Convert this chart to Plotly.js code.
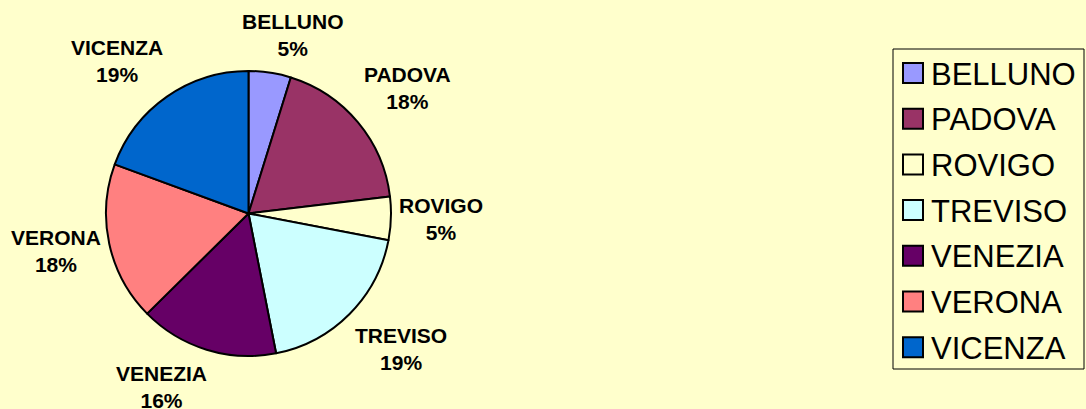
<!DOCTYPE html>
<html>
<head>
<meta charset="utf-8">
<script src="https://cdn.plot.ly/plotly-3.0.1.min.js"></script>
<style>html,body{margin:0;padding:0;background:#FFFFCC;}#chart{width:1086px;height:409px;}</style>
</head>
<body>
<div id="chart"></div>
<script>
// ---- data ----
const provinces = ["BELLUNO", "PADOVA", "ROVIGO", "TREVISO", "VENEZIA", "VERONA", "VICENZA"];
const shares = [4.8, 18.3, 4.9, 18.9, 15.7, 18.0, 19.4];
const sliceColors = ["#9999FF", "#993366", "#FFFFCC", "#CCFFFF", "#660066", "#FF8080", "#0066CC"];

// ---- geometry (layout only) ----
const W = 1086, H = 409;
const cx = 248.5, cy = 213.5, R = 142.5;
const px = x => x / W;
const py = y => 1 - y / H;
const clamp = (v, lo, hi) => Math.max(lo, Math.min(hi, v));

const FONT = "Liberation Sans, Arial, Helvetica, sans-serif";
const labelSize = 21;
const total = shares.reduce((a, b) => a + b, 0);

const ctx = document.createElement("canvas").getContext("2d");
ctx.font = "bold 20px " + FONT;

// label boxes sit just outside the pie: the anchor point on the mid-angle ray
// touches the label box (edge or corner), as in spreadsheet "best fit" labels
const annotations = [];
const r0 = R + 10.5, halfH = 27.5;
let cum = 0;
shares.forEach((v, i) => {
  const mid = (cum + v / 2) / total * 2 * Math.PI;
  cum += v;
  const ux = Math.sin(mid), uy = -Math.cos(mid);
  const pct = Math.round(v / total * 100) + "%";
  const halfW = Math.max(ctx.measureText(provinces[i]).width, ctx.measureText(pct).width) / 2;
  const sx = Math.sign(ux) * clamp((Math.abs(ux) - 0.03) / 0.27, 0, 1);
  const sy = Math.sign(uy) * clamp((Math.abs(uy) - 0.12) / 0.5, 0, 1);
  const lx = cx + r0 * ux + sx * halfW;
  const ly = cy + r0 * uy + sy * halfH;
  annotations.push({
    xref: "paper", yref: "paper", x: px(lx), y: py(ly),
    xanchor: "center", yanchor: "middle", showarrow: false,
    text: "<b>" + provinces[i] + "<br>" + pct + "</b>",
    font: {family: FONT, size: labelSize, color: "#000000"}
  });
});

// ---- legend (drawn from the same arrays) ----
const legLeft = 893, legTop = 49, legRight = 1084, legBottom = 369;
const shapes = [{
  type: "rect", xref: "paper", yref: "paper",
  x0: px(legLeft), x1: px(legRight), y0: py(legBottom), y1: py(legTop),
  line: {color: "#000000", width: 1}, fillcolor: "#FFFFCC"
}];
const firstY = 73, stepY = 45.7;
provinces.forEach((name, i) => {
  const yc = firstY + i * stepY;
  shapes.push({
    type: "rect", xref: "paper", yref: "paper",
    x0: px(903), x1: px(923), y0: py(yc + 10), y1: py(yc - 10),
    line: {color: "#000000", width: 2}, fillcolor: sliceColors[i]
  });
  annotations.push({
    xref: "paper", yref: "paper", x: px(929), y: py(yc + 1),
    xanchor: "left", yanchor: "middle", showarrow: false,
    text: name, font: {family: FONT, size: 31, color: "#000000"}
  });
});

const data = [{
  type: "pie",
  labels: provinces,
  values: shares,
  sort: false,
  direction: "clockwise",
  rotation: 0,
  textinfo: "none",
  hoverinfo: "label+percent",
  marker: {colors: sliceColors, line: {color: "#000000", width: 2}},
  domain: {x: [px(cx - R), px(cx + R)], y: [py(cy + R), py(cy - R)]},
  showlegend: false
}];

const layout = {
  width: W, height: H,
  margin: {l: 0, r: 0, t: 0, b: 0},
  paper_bgcolor: "#FFFFCC",
  plot_bgcolor: "#FFFFCC",
  showlegend: false,
  shapes: shapes,
  annotations: annotations
};

Plotly.newPlot("chart", data, layout, {displayModeBar: false, staticPlot: true});
</script>
</body>
</html>
